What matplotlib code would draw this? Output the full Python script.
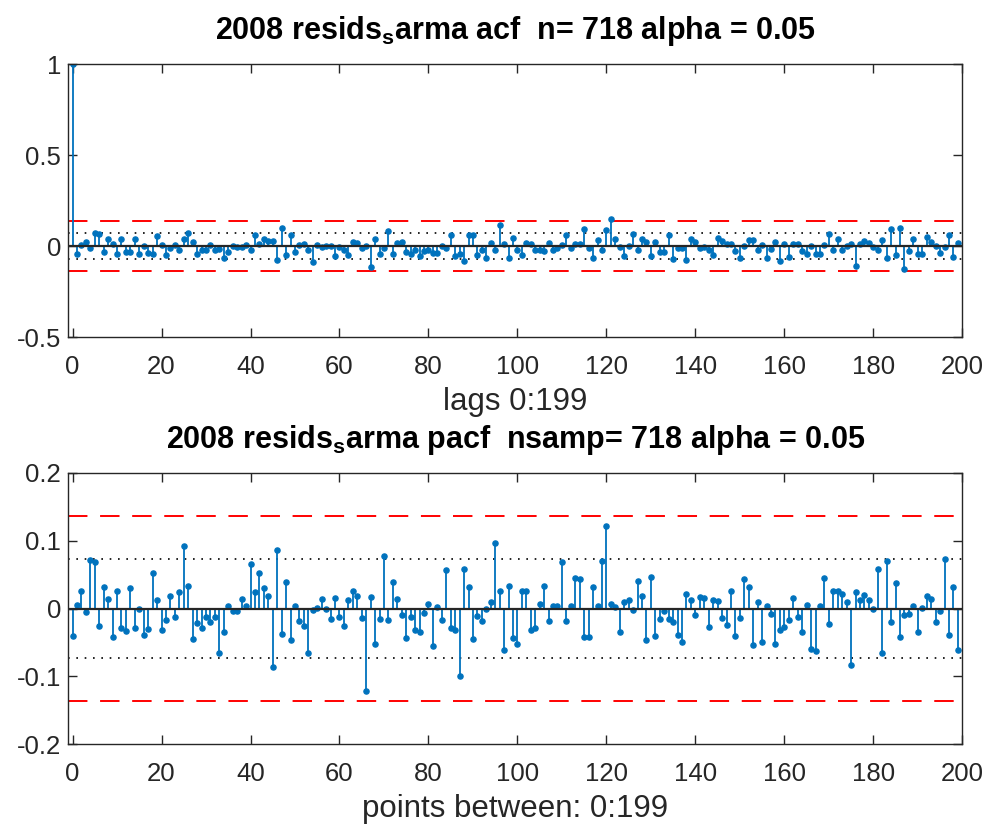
import numpy as np
import matplotlib
matplotlib.use('Agg')
import matplotlib.pyplot as plt

plt.rcParams['font.family'] = ['Liberation Sans', 'DejaVu Sans']
plt.rcParams['mathtext.fontset'] = 'custom'
plt.rcParams['mathtext.rm'] = 'Liberation Sans'
plt.rcParams['mathtext.bf'] = 'Liberation Sans:bold'
plt.rcParams['axes.unicode_minus'] = False

n = 718
alpha = 0.05
lags = np.arange(200)

acf = [1.0,
       -0.044, 0.007, 0.024, -0.013, 0.070, 0.065, -0.033, 0.037, 0.013,
       -0.043, 0.039, -0.031, -0.031, 0.039, -0.043, 0.0, -0.039, -0.044, 0.057,
       0.007, -0.048, -0.013, 0.007, -0.019, 0.041, 0.074, 0.022, -0.043, -0.024,
       -0.022, 0.004, -0.019, -0.017, -0.067, -0.033, 0.0, -0.007, -0.004, 0.004,
       -0.019, 0.061, 0.013, 0.037, 0.026, 0.026, -0.076, 0.102, -0.048, 0.059,
       -0.031, 0.007, 0.013, -0.024, -0.085, 0.007, -0.007, 0.0, 0.002, -0.057,
       -0.007, -0.022, -0.048, 0.024, 0.015, -0.009, 0.002, -0.115, 0.039, -0.041,
       -0.011, 0.083, -0.044, 0.019, 0.022, -0.035, -0.044, -0.019, -0.057, -0.028,
       -0.019, -0.039, -0.039, 0.0, -0.013, 0.059, -0.054, -0.046, -0.083, 0.059,
       0.059, -0.050, -0.019, -0.065, 0.017, -0.019, 0.117, 0.009, -0.065, 0.044,
       -0.021, -0.050, 0.019, 0.013, -0.019, -0.019, -0.028, 0.019, -0.019, -0.011,
       0.004, 0.059, -0.013, 0.013, 0.013, 0.096, -0.013, -0.067, 0.035, -0.019,
       0.087, 0.148, 0.037, -0.004, -0.054, 0.002, 0.065, -0.022, 0.039, 0.024,
       -0.054, 0.022, -0.033, -0.033, 0.061, -0.072, -0.013, -0.013, -0.078, 0.037,
       0.024, -0.013, -0.004, -0.024, -0.048, 0.046, 0.028, 0.011, 0.009, -0.028,
       -0.063, 0.002, 0.033, 0.033, -0.019, 0.006, -0.067, -0.015, 0.020, -0.081,
       0.013, -0.061, 0.013, 0.013, -0.028, -0.041, 0.002, -0.044, -0.046, 0.006,
       0.065, -0.022, 0.041, -0.020, 0.002, 0.011, -0.111, 0.013, 0.026, 0.019,
       -0.004, -0.019, 0.031, -0.065, 0.094, -0.048, 0.100, -0.126, -0.026, 0.041,
       -0.044, -0.044, 0.052, 0.020, 0.002, -0.037, -0.004, 0.061, -0.061, 0.017]

pacf = [-0.040, 0.005, 0.026, -0.005, 0.071, 0.069, -0.026, 0.032, 0.014, -0.042,
        0.026, -0.028, -0.033, 0.031, -0.028, -0.001, -0.039, -0.030, 0.053, 0.013,
        -0.031, -0.017, 0.019, -0.013, 0.025, 0.092, 0.033, -0.045, -0.021, -0.028,
        -0.013, -0.020, -0.013, -0.066, -0.034, 0.004, -0.003, -0.004, 0.014, 0.004,
        0.066, 0.025, 0.052, 0.030, 0.018, -0.086, 0.086, -0.037, 0.039, -0.046,
        0.003, -0.018, -0.026, -0.066, -0.002, 0.001, 0.014, -0.001, -0.016, 0.016,
        -0.013, -0.026, 0.013, 0.026, 0.019, -0.014, -0.121, 0.017, -0.052, -0.015,
        0.078, -0.017, 0.039, 0.014, -0.009, -0.044, -0.012, -0.032, -0.034, -0.007,
        0.006, -0.056, 0.002, -0.017, 0.057, -0.028, -0.031, -0.100, 0.059, 0.032,
        -0.045, -0.011, -0.019, -0.001, 0.010, 0.096, 0.026, -0.061, 0.033, -0.043,
        -0.052, 0.026, 0.026, -0.031, -0.029, 0.006, 0.033, -0.019, 0.004, 0.003,
        0.068, -0.019, 0.004, 0.045, 0.043, -0.042, -0.042, 0.032, 0.004, 0.070,
        0.122, 0.006, 0.002, -0.035, 0.009, 0.012, -0.002, 0.041, 0.018, -0.046,
        0.046, -0.041, -0.016, -0.004, -0.016, -0.020, -0.039, -0.050, 0.022, 0.013,
        -0.009, 0.017, 0.016, -0.027, 0.012, 0.011, -0.014, -0.024, 0.026, -0.041,
        -0.014, 0.044, 0.032, -0.054, 0.009, -0.049, 0.003, -0.008, -0.053, -0.032,
        -0.027, -0.017, 0.016, -0.012, -0.035, 0.005, -0.059, -0.062, 0.004, 0.045,
        -0.023, 0.026, 0.026, 0.021, 0.010, -0.084, 0.024, 0.013, 0.020, 0.012,
        -0.001, 0.059, -0.066, 0.070, -0.020, 0.037, -0.042, -0.009, -0.008, 0.003,
        -0.034, 0.001, 0.018, 0.014, -0.020, -0.003, 0.073, -0.039, 0.032, -0.061]

conf = 1.96 / np.sqrt(n)
wide = 0.1367

blue = '#0072BD'
dark = '#262626'


def panel(ax, vals, ylim, yticks, yticklabels, title, xlabel):
    ax.axhline(wide, color='red', ls=(0, (10, 6.5)), lw=1.4, zorder=1)
    ax.axhline(-wide, color='red', ls=(0, (10, 6.5)), lw=1.4, zorder=1)
    ax.axhline(conf, color='black', ls=(0, (1, 4)), lw=1.2, zorder=1)
    ax.axhline(-conf, color='black', ls=(0, (1, 4)), lw=1.2, zorder=1)
    ml, sl, bl = ax.stem(lags, vals, linefmt='-', markerfmt='o', basefmt=' ')
    plt.setp(sl, color=blue, lw=1.3)
    plt.setp(ml, color=blue, markersize=3.7)
    ax.axhline(0, color=dark, lw=1.6, zorder=3)
    ax.set_xlim(-1, 200)
    ax.set_ylim(*ylim)
    ax.set_xticks(range(0, 201, 20))
    ax.set_yticks(yticks)
    ax.set_yticklabels(yticklabels)
    ax.tick_params(direction='in', length=6.5, width=1.0, top=True, right=True,
                   labelsize=18.5, colors=dark)
    ax.tick_params(axis='x', pad=13)
    ax.tick_params(axis='y', pad=5)
    for s in ax.spines.values():
        s.set_color(dark)
        s.set_linewidth(1.0)
    ax.set_title(title, fontsize=22, fontweight='bold', pad=18)
    ax.set_xlabel(xlabel, fontsize=22.5, color=dark, labelpad=6)


fig = plt.figure(figsize=(9.87, 8.24), dpi=100)
ax1 = fig.add_axes([0.069, 0.591, 0.906, 0.331])
ax2 = fig.add_axes([0.069, 0.097, 0.906, 0.329])

panel(ax1, acf, (-0.5, 1), [-0.5, 0, 0.5, 1], ['-0.5', '0', '0.5', '1'],
      r'2008 resids$_\mathbf{s}$arma acf  n= 718 alpha = 0.05', 'lags 0:199')
panel(ax2, pacf, (-0.2, 0.2), [-0.2, -0.1, 0, 0.1, 0.2],
      ['-0.2', '-0.1', '0', '0.1', '0.2'],
      r'2008 resids$_\mathbf{s}$arma pacf  nsamp= 718 alpha = 0.05',
      'points between: 0:199')

fig.savefig('out.png', dpi=100)
